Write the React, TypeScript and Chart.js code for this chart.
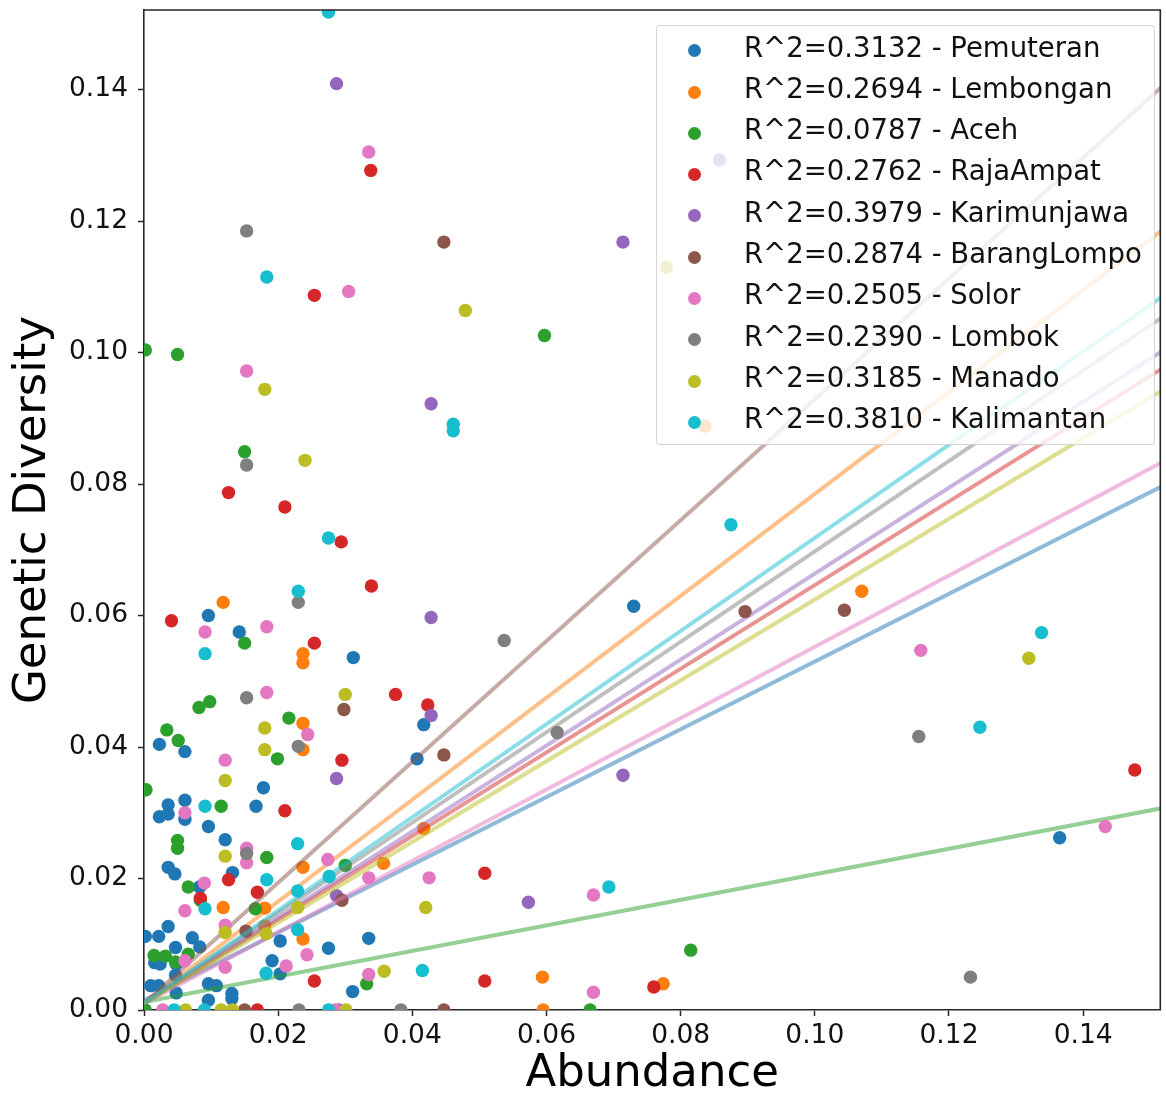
import React, { useEffect, useRef } from "react";
import { Chart, registerables } from "chart.js";

Chart.register(...registerables);

const locations = ["Pemuteran", "Lembongan", "Aceh", "RajaAmpat", "Karimunjawa", "BarangLompo", "Solor", "Lombok", "Manado", "Kalimantan"];
const rSquared = ["0.3132", "0.2694", "0.0787", "0.2762", "0.3979", "0.2874", "0.2505", "0.2390", "0.3185", "0.3810"];
const colors = ["#1f77b4", "#ff7f0e", "#2ca02c", "#d62728", "#9467bd", "#8c564b", "#e377c2", "#7f7f7f", "#bcbd22", "#17becf"];
const lineColors = [
  "rgba(31,119,180,0.5)", "rgba(255,127,14,0.5)", "rgba(44,160,44,0.5)", "rgba(214,39,40,0.5)", "rgba(148,103,189,0.5)",
  "rgba(140,86,75,0.5)", "rgba(227,119,194,0.5)", "rgba(127,127,127,0.5)", "rgba(188,189,34,0.5)", "rgba(23,190,207,0.5)",
];

const xTickValues = [0, 0.02, 0.04, 0.06, 0.08, 0.1, 0.12, 0.14];
const xTickLabels = ["0.00", "0.02", "0.04", "0.06", "0.08", "0.10", "0.12", "0.14"];
const yTickValues = [0, 0.02, 0.04, 0.06, 0.08, 0.1, 0.12, 0.14];
const yTickLabels = ["0.00", "0.02", "0.04", "0.06", "0.08", "0.10", "0.12", "0.14"];

const X_MAX = 0.1515;
const Y_MAX = 0.1521;

// regression line end points (x = 0 and x = 0.16)
const lineX = [0, 0.16];
const lineYStart = [0.0015, 0.001, 0.0012, 0.001, 0.001, 0.001, 0.001, 0.001, 0.001, 0.001];
const lineYEnd = [0.0839, 0.125, 0.0323, 0.1028, 0.1056, 0.148, 0.0878, 0.111, 0.0993, 0.1143];

const pemuteranX = [0.0096, 0.0142, 0.0312, 0.0023, 0.0061, 0.0178, 0.0036, 0.0023, 0.0036, 0.0061, 0.0061, 0.0167, 0.0096, 0.0121, 0.0036, 0.0046, 0.0132, 0.0083, 0.0036, 0.0022, 0.0002, 0.0072, 0.0083, 0.0047, 0.0203, 0.0275, 0.0335, 0.0203, 0.0311, 0.0016, 0.0047, 0.001, 0.0022, 0.0096, 0.0108, 0.0131, 0.0131, 0.0096, 0.0048, 0.073, 0.0417, 0.0407, 0.1365, 0.0024, 0.0048, 0.0191];
const pemuteranY = [0.06, 0.0575, 0.0536, 0.0404, 0.0393, 0.0338, 0.0312, 0.0294, 0.0298, 0.0319, 0.029, 0.031, 0.0279, 0.0259, 0.0217, 0.0207, 0.0209, 0.0187, 0.0127, 0.0112, 0.0112, 0.011, 0.0096, 0.0095, 0.0105, 0.0094, 0.0109, 0.0055, 0.0028, 0.0072, 0.0053, 0.0037, 0.0037, 0.004, 0.0037, 0.0025, 0.0017, 0.0015, 0.0026, 0.0614, 0.0434, 0.0382, 0.0262, 0.007, 0.007, 0.0075];

const lembonganX = [0.0118, 0.0237, 0.0237, 0.0237, 0.0237, 0.0118, 0.018, 0.0237, 0.0357, 0.0237, 0.018, 0.0417, 0.0594, 0.0774, 0.107, 0.0836, 0.0595];
const lembonganY = [0.062, 0.0542, 0.0528, 0.0436, 0.0396, 0.0156, 0.0155, 0.0217, 0.0223, 0.0108, 0.0128, 0.0276, 0.005, 0.004, 0.0637, 0.0888, 0.0];

const acehX = [0.0002, 0.005, 0.015, 0.0597, 0.015, 0.0082, 0.0098, 0.0216, 0.0034, 0.0051, 0.0199, 0.0003, 0.0115, 0.005, 0.005, 0.0183, 0.0066, 0.0084, 0.0166, 0.03, 0.0015, 0.0032, 0.0047, 0.0066, 0.0332, 0.0815, 0.0002, 0.0665];
const acehY = [0.1004, 0.0997, 0.0849, 0.1026, 0.0558, 0.046, 0.0469, 0.0444, 0.0426, 0.041, 0.0382, 0.0335, 0.031, 0.0258, 0.0246, 0.0232, 0.0187, 0.0167, 0.0154, 0.022, 0.0083, 0.0082, 0.0073, 0.0085, 0.004, 0.0091, 0.0, 0.0];

const rajaAmpatX = [0.0338, 0.0254, 0.0126, 0.021, 0.0294, 0.0339, 0.0041, 0.0254, 0.0375, 0.0423, 0.0295, 0.021, 0.0126, 0.0084, 0.0169, 0.0254, 0.0508, 0.0508, 0.076, 0.1477, 0.0169];
const rajaAmpatY = [0.1277, 0.1087, 0.0787, 0.0765, 0.0712, 0.0645, 0.0592, 0.0558, 0.048, 0.0464, 0.038, 0.0303, 0.0198, 0.017, 0.0179, 0.0044, 0.0208, 0.0044, 0.0035, 0.0365, 0.0];

const karimunjawaX = [0.0287, 0.0714, 0.0858, 0.0428, 0.0428, 0.0428, 0.0287, 0.0287, 0.0714, 0.0573, 0.029];
const karimunjawaY = [0.1409, 0.1168, 0.1293, 0.0922, 0.0597, 0.0448, 0.0352, 0.0174, 0.0357, 0.0164, 0.0];

const barangLompoX = [0.0447, 0.0298, 0.0447, 0.0295, 0.0152, 0.0896, 0.1044, 0.015, 0.0447];
const barangLompoY = [0.1168, 0.0457, 0.0388, 0.0167, 0.012, 0.0606, 0.0608, 0.0, 0.0];

const solorX = [0.0335, 0.0305, 0.0153, 0.0091, 0.0183, 0.0183, 0.0244, 0.0121, 0.0061, 0.0153, 0.0153, 0.009, 0.0061, 0.0274, 0.0335, 0.0121, 0.0243, 0.0212, 0.0335, 0.0061, 0.0121, 0.0425, 0.067, 0.067, 0.1158, 0.1433, 0.0028, 0.0285];
const solorY = [0.1305, 0.1093, 0.0972, 0.0575, 0.0583, 0.0483, 0.0419, 0.038, 0.03, 0.0246, 0.0224, 0.0193, 0.0151, 0.0229, 0.0201, 0.0129, 0.0084, 0.0067, 0.0054, 0.0075, 0.0065, 0.0201, 0.0175, 0.0027, 0.0547, 0.0279, 0.0, 0.0];

const lombokX = [0.0153, 0.0153, 0.023, 0.0153, 0.023, 0.0153, 0.0537, 0.0616, 0.1155, 0.1232, 0.0231, 0.0383];
const lombokY = [0.1185, 0.0829, 0.062, 0.0475, 0.0401, 0.0238, 0.0562, 0.0422, 0.0416, 0.005, 0.0, 0.0];

const manadoX = [0.018, 0.024, 0.0479, 0.0779, 0.03, 0.018, 0.018, 0.0121, 0.0121, 0.0229, 0.0121, 0.0182, 0.0358, 0.042, 0.1319, 0.0062, 0.0115, 0.0132, 0.0301];
const manadoY = [0.0944, 0.0836, 0.1064, 0.113, 0.048, 0.0429, 0.0396, 0.0349, 0.0234, 0.0156, 0.0118, 0.0116, 0.0059, 0.0156, 0.0535, 0.0, 0.0, 0.0, 0.0];

const kalimantanX = [0.0275, 0.0183, 0.0275, 0.023, 0.0091, 0.0461, 0.0461, 0.0875, 0.0091, 0.0229, 0.0183, 0.0091, 0.0276, 0.0229, 0.0229, 0.0182, 0.0415, 0.0693, 0.1338, 0.1246, 0.0045, 0.009, 0.0275];
const kalimantanY = [0.1518, 0.1115, 0.0718, 0.0637, 0.0542, 0.0891, 0.0881, 0.0738, 0.031, 0.0253, 0.0198, 0.0154, 0.0203, 0.0181, 0.0122, 0.0056, 0.006, 0.0187, 0.0574, 0.043, 0.0, 0.0, 0.0];

const seriesX = [pemuteranX, lembonganX, acehX, rajaAmpatX, karimunjawaX, barangLompoX, solorX, lombokX, manadoX, kalimantanX];
const seriesY = [pemuteranY, lembonganY, acehY, rajaAmpatY, karimunjawaY, barangLompoY, solorY, lombokY, manadoY, kalimantanY];

const FONT = "'DejaVu Sans', 'Liberation Sans', sans-serif";
const AXIS_COLOR = "#262626";

const spinePlugin = {
  id: "spines",
  afterDatasetsDraw(chart: any) {
    const { ctx, chartArea } = chart;
    ctx.save();
    ctx.strokeStyle = AXIS_COLOR;
    ctx.lineWidth = 1.6;
    ctx.beginPath();
    ctx.moveTo(chartArea.left, chartArea.top);
    ctx.lineTo(chartArea.right, chartArea.top);
    ctx.lineTo(chartArea.right, chartArea.bottom);
    ctx.stroke();
    ctx.restore();
  },
};

const zeroPadding = (s: any) => {
  s.paddingTop = 0;
  s.paddingBottom = 0;
  s.paddingLeft = 0;
  s.paddingRight = 0;
};

export default function App() {
  const canvasRef = useRef<HTMLCanvasElement | null>(null);

  useEffect(() => {
    if (!canvasRef.current) return;
    const datasets: any[] = [];
    const total = locations.length * 2;
    let k = 0;
    locations.forEach((name, i) => {
      datasets.push({
        type: "scatter",
        label: name,
        data: seriesX[i].map((x, j) => ({ x, y: seriesY[i][j] })),
        backgroundColor: colors[i],
        borderWidth: 0,
        pointRadius: 6.7,
        pointHoverRadius: 6.7,
        pointBorderWidth: 0,
        clip: 0,
        order: total - 1 - k++,
      });
      datasets.push({
        type: "scatter",
        label: name + " fit",
        data: lineX.map((x, j) => ({ x, y: j === 0 ? lineYStart[i] : lineYEnd[i] })),
        showLine: true,
        borderColor: lineColors[i],
        backgroundColor: lineColors[i],
        borderWidth: 4,
        pointRadius: 0,
        fill: false,
        clip: 0,
        order: total - 1 - k++,
      });
    });

    const chart = new Chart(canvasRef.current, {
      type: "scatter",
      data: { datasets },
      options: {
        responsive: false,
        animation: false,
        devicePixelRatio: 1,
        layout: { padding: { top: 10, right: 0, bottom: 0, left: 0 } },
        plugins: { legend: { display: false }, tooltip: { enabled: false } },
        events: [],
        scales: {
          x: {
            type: "linear",
            position: "bottom",
            min: 0,
            max: X_MAX,
            afterBuildTicks: (s: any) => {
              s.ticks = xTickValues.map((v) => ({ value: v }));
            },
            afterFit: (s: any) => {
              s.height = 87;
              zeroPadding(s);
            },
            ticks: {
              callback: (_v: any, idx: number) => xTickLabels[idx],
              font: { family: FONT, size: 26.5 },
              color: "#111",
              padding: 4,
              maxRotation: 0,
              autoSkip: false,
            },
            grid: { display: true, drawOnChartArea: false, drawTicks: true, tickLength: 6, tickWidth: 1.5, tickColor: AXIS_COLOR },
            border: { display: true, color: AXIS_COLOR, width: 1.6 },
            title: { display: true, text: "Abundance", font: { family: FONT, size: 45, lineHeight: 1 }, color: "#000", padding: { top: 0, bottom: 0 } },
          },
          y: {
            type: "linear",
            position: "left",
            min: 0,
            max: Y_MAX,
            afterBuildTicks: (s: any) => {
              s.ticks = yTickValues.map((v) => ({ value: v }));
            },
            afterFit: (s: any) => {
              s.width = 144;
              zeroPadding(s);
            },
            ticks: {
              callback: (_v: any, idx: number) => yTickLabels[idx],
              font: { family: FONT, size: 26.5 },
              color: "#111",
              padding: 10,
              autoSkip: false,
            },
            grid: { display: true, drawOnChartArea: false, drawTicks: true, tickLength: 6, tickWidth: 1.5, tickColor: AXIS_COLOR },
            border: { display: true, color: AXIS_COLOR, width: 1.6 },
            title: { display: true, text: "Genetic Diversity", font: { family: FONT, size: 45, lineHeight: 1 }, color: "#000", padding: { top: 11, bottom: 0 } },
          },
        },
      } as any,
      plugins: [spinePlugin],
    });
    return () => chart.destroy();
  }, []);

  const rowStep = 41.3;
  return (
    <div style={{ position: "absolute", left: 0, top: 0, width: 1166, height: 1097, overflow: "hidden", background: "#fff" }}>
      <canvas ref={canvasRef} width={1167} height={1097} style={{ position: "absolute", left: 0, top: 0, width: 1167, height: 1097 }} />
      <div
        style={{
          position: "absolute",
          left: 656,
          top: 25,
          width: 497,
          height: 418,
          background: "rgba(255,255,255,0.8)",
          border: "1px solid rgba(204,204,204,0.8)",
          borderRadius: 4,
          fontFamily: FONT,
        }}
      >
        {locations.map((name, i) => {
          const textCenter = 46.5 + rowStep * i - 26;
          const markerCenter = 50.7 + rowStep * i - 26;
          return (
            <React.Fragment key={name}>
              <span
                style={{
                  position: "absolute",
                  left: 694 - 657 - 6.5,
                  top: markerCenter - 6.5,
                  width: 13,
                  height: 13,
                  borderRadius: "50%",
                  background: colors[i],
                }}
              />
              <span
                style={{
                  position: "absolute",
                  left: 744 - 657,
                  top: textCenter - 16,
                  height: 32,
                  lineHeight: "32px",
                  fontSize: 27.5,
                  color: "#111",
                  whiteSpace: "nowrap",
                }}
              >
                {`R^2=${rSquared[i]} - ${name}`}
              </span>
            </React.Fragment>
          );
        })}
      </div>
    </div>
  );
}
